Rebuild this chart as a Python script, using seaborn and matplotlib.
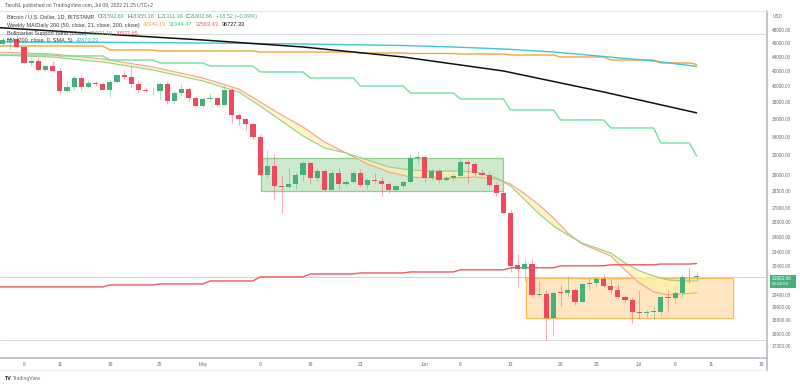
import numpy as np
import pandas as pd
import matplotlib
matplotlib.use("Agg")
import matplotlib.pyplot as plt
import seaborn as sns
from matplotlib.patches import Rectangle
from matplotlib.ticker import NullLocator

# ---- daily candles, day 0 = 6 Apr 2022 (BTC/USD, Bitstamp, log scale) ----
day = list(range(-3, 95))
open_ = [45900, 46450, 46600, 45400, 43170, 43400, 42200, 42700, 42000, 39400,
         39950, 41100, 39900, 40500, 40350, 39550, 40600, 41450, 41300, 40300,
         39600, 39350, 39450, 40350, 38100, 39200, 39700, 38550, 37600, 38450,
         38520, 37700, 39600, 36500, 36000, 35400, 34000, 30050, 30900, 28950,
         28900, 29200, 30000, 31250, 29800, 30400, 28600, 30250, 29200, 29400,
         30250, 29050, 29600, 29500, 29200, 28600, 28950, 29400, 31700, 31800,
         29750, 30400, 29600, 29800, 29900, 31300, 31100, 30200, 30000, 29050,
         28350, 26550, 22450, 22150, 22550, 20400, 20450, 18950, 20580, 20520,
         20700, 19950, 21100, 21200, 21500, 21000, 20750, 20250, 20080, 19300,
         19260, 19290, 19320, 20230, 20180, 20550, 21640, 21592.69]
high = [47000, 46900, 47200, 45500, 43900, 43950, 42800, 43400, 42400, 40700,
        41500, 41500, 40850, 40700, 40600, 40950, 41700, 42200, 42900, 40800,
        39850, 39900, 40600, 40700, 39400, 40300, 39900, 38800, 38650, 39150,
        38650, 40000, 39800, 36650, 36100, 35500, 34300, 32600, 32100, 30000,
        30800, 30300, 31400, 31300, 30750, 30650, 30500, 30750, 29600, 30450,
        30650, 29800, 30200, 29850, 29350, 29050, 29500, 32200, 32350, 31950,
        30600, 30650, 29950, 30150, 31700, 31550, 31300, 30650, 30300, 29400,
        28550, 26900, 23300, 22900, 22950, 21350, 20750, 20650, 21050, 21700,
        20850, 21200, 21550, 21600, 21850, 21500, 21200, 20400, 20250, 20750,
        19400, 19650, 20350, 20750, 20650, 21850, 22350, 21955.18]
low = [45600, 45100, 45400, 43100, 42700, 42100, 42100, 41900, 39200, 39250,
       39550, 39600, 39750, 40000, 39500, 38700, 40500, 40900, 39800, 39200,
       39300, 38900, 38300, 37800, 37900, 38900, 38200, 37600, 37400, 38000,
       37500, 37650, 35550, 35300, 34800, 33700, 30000, 29750, 27800, 26600,
       28800, 28700, 29500, 29200, 29450, 28550, 28600, 28750, 28950, 29250,
       28900, 28700, 29300, 28050, 28300, 28450, 28850, 29300, 31200, 29400,
       29600, 29250, 29450, 29500, 29850, 29250, 29900, 29950, 28900, 28100,
       26550, 21950, 20900, 21350, 20250, 20250, 17600, 17850, 19650, 20350,
       19750, 19900, 20750, 20950, 20950, 20550, 20200, 19850, 18650, 18950,
       18980, 18800, 19050, 19300, 19800, 20250, 21200, 21311.36]
close = [46450, 46600, 45500, 43170, 43400, 42200, 42700, 42000, 39400, 39950,
         41100, 39900, 40500, 40350, 39550, 40600, 41450, 41300, 40300, 39600,
         39350, 39450, 40350, 38100, 39200, 39700, 38550, 37600, 38450, 38520,
         37700, 39600, 36500, 36000, 35400, 34000, 30050, 30900, 28950, 28900,
         29200, 30000, 31250, 29800, 30400, 28600, 30250, 29200, 29400, 30250,
         29050, 29600, 29500, 29200, 28600, 28950, 29400, 31700, 31800, 29750,
         30400, 29600, 29800, 29900, 31300, 31100, 30200, 30000, 29050, 28350,
         26600, 22400, 22150, 22550, 20400, 20450, 18950, 20550, 20520, 20700,
         19950, 21100, 21200, 21500, 21000, 20750, 20250, 20080, 19280, 19260,
         19290, 19320, 20230, 20180, 20550, 21640, 21584, 21602.66]

# ---- Weekly MA / Daily 200 (weekly values start on Mondays) ----
week_start = [-9, -2, 5, 12, 19, 26, 33, 40, 47, 54, 61, 68, 75, 82, 89]
wma50 = [45582, 45582, 45582, 44997, 44851, 44851, 44706, 44706, 44561, 44490,
         44418, 44275, 43990, 43566, 43146]
wma21 = [44275, 44275, 44132, 43566, 43146, 42730, 41909, 41103, 40055, 39157,
         38407, 37067, 35889, 34975, 33318]
wma200 = [20924, 20924, 20924, 21058, 21126, 21332, 21611, 21820, 21890, 21961,
          22116, 22258, 22402, 22475, 22530]
last_day = 94
wma_last = {"wma50": 42949.19, "wma21": 31944.47, "wma200": 22563.43}

dma200_days = [-4, 11, 25, 39, 53, 67, 81, 94]
dma200 = [48400, 47384, 46474, 45434, 43990, 42045, 39290, 36727.33]

ma200_days = [-4, 11, 25, 39, 53, 60, 67, 74, 81, 88, 94]
ma200 = [46174, 46129, 46030, 45878, 45654, 45434, 45143, 44706, 44062, 43425, 42673.23]

# ---- Bullmarket Support Band ----
bsb_days = [-4, 4, 11, 18, 25, 30, 33, 36, 39, 42, 45, 48, 51, 54, 57, 60,
            63, 66, 68, 70, 72, 74, 76, 78, 80, 82, 84, 86, 88, 90, 92, 94]
bsb_sma = [44707, 44419, 43707, 42591, 41104, 39669, 38037, 36474, 35086, 33426,
           32258, 31132, 30338, 29851, 29755, 29755, 29851, 29659, 29184, 28256,
           27269, 26148, 24911, 24041, 23580, 23127, 22104, 21195, 20587, 20389,
           20455, 20527.65]
bsb_ema = [44275, 43990, 43285, 42181, 40708, 39286, 37548, 35772, 34080, 32784,
           32258, 31537, 30832, 30535, 30436, 30436, 30338, 29755, 28996, 27713,
           26488, 25480, 24750, 24119, 23732, 23352, 22610, 22032, 21680, 21401,
           21332, 21332.19]

# ---- drawings ----
range_box = (33.1, 67.0, 28530, 31710)     # day from, day to, low, high
bottom_box = (70.1, 99.1, 18910, 21520)
range_high, range_low = 47380, 17630
last_price = 21602.66

ytick_vals = [48000, 46000, 44000, 42000, 40000, 38000, 36000, 34000, 32000,
              30000, 28500, 27000, 25800, 24600, 23400, 22400, 20400, 19600,
              18800, 18000, 17300]
xtick_days = [0, 5, 12, 19, 25, 33, 40, 47, 56, 61, 68, 75, 80, 86, 91, 96, 103]
xtick_labels = ["6", "11", "18", "25", "May", "9", "16", "23", "Jun", "6", "13",
                "20", "25", "Jul", "6", "11", "18"]

UP, DOWN = "#45b07a", "#ef4a5c"

sns.set_theme(style="white")
plt.rcParams["font.family"] = ["Liberation Sans", "DejaVu Sans"]

W, H = 800, 386
fig = plt.figure(figsize=(W / 100, H / 100), dpi=100)
ax = fig.add_axes([0, (H - 358) / H, 767 / W, 347 / H])
ax.set_yscale("log")
ax.set_ylim(16630, 51040)
ax.set_xlim(-3.354, 103.84)


def weekly_path(starts, vals, final):
    xs, ys = [], []
    for i, (s, v) in enumerate(zip(starts, vals)):
        end = starts[i + 1] - 1 if i + 1 < len(starts) else last_day - 1
        xs += [s, end]
        ys += [v, v]
    xs.append(last_day)
    ys.append(final)
    return pd.DataFrame({"day": xs, "price": ys})


# boxes
for (d0, d1, lo, hi), fc, ec in [(range_box, "#cfe9cf", "#8fcf92"),
                                 (bottom_box, "#ffe5c0", "#ffb95a")]:
    ax.add_patch(Rectangle((d0, lo), d1 - d0, hi - lo, facecolor=fc,
                           edgecolor=ec, lw=0.9, zorder=1))

ax.axhline(range_high, color="#d6d8de", lw=0.7, zorder=0.5)
ax.axhline(range_low, color="#d6d8de", lw=0.7, zorder=0.5)
ax.axhline(last_price, color="#a9dcc4", lw=0.6, zorder=0.5)

# band
ax.fill_between(bsb_days, bsb_sma, bsb_ema, color="#fff1a8", alpha=0.7, lw=0, zorder=1.5)
sns.lineplot(x=bsb_days, y=bsb_sma, ax=ax, color="#f4a08f", lw=0.8, zorder=2)
sns.lineplot(x=bsb_days, y=bsb_ema, ax=ax, color="#98cf86", lw=0.8, zorder=2)

# moving averages
for df, col in [(weekly_path(week_start, wma50, wma_last["wma50"]), "#f7a534"),
                (weekly_path(week_start, wma21, wma_last["wma21"]), "#6fe3a4"),
                (weekly_path(week_start, wma200, wma_last["wma200"]), "#f05a5a")]:
    sns.lineplot(data=df, x="day", y="price", ax=ax, color=col, lw=1.0,
                 sort=False, estimator=None, zorder=2)
sns.lineplot(x=ma200_days, y=ma200, ax=ax, color="#3cc8d8", lw=1.0, zorder=2)
sns.lineplot(x=dma200_days, y=dma200, ax=ax, color="#111111", lw=1.1, zorder=2)

# candles
o, h, l, c = map(np.array, (open_, high, low, close))
d = np.array(day)
cols = np.where(c >= o, UP, DOWN)
ax.vlines(d, l, h, colors=cols, lw=0.7, alpha=0.45, zorder=3)
body_lo = np.minimum(o, c)
body_h = np.maximum(np.abs(c - o), body_lo * 0.0025)
ax.bar(d, body_h, bottom=body_lo, width=0.72, color=cols, lw=0, zorder=4)

# axes styling
for s in ["left", "top"]:
    ax.spines[s].set_visible(False)
ax.spines["bottom"].set_color("#b8bbc4")
ax.spines["bottom"].set_linewidth(1.2)
ax.spines["right"].set_color("#b8bbc4")
ax.spines["right"].set_linewidth(1.2)
ax.yaxis.tick_right()
ax.yaxis.set_minor_locator(NullLocator())
ax.set_yticks(ytick_vals)
ax.set_yticklabels([f"{v:.2f}" for v in ytick_vals])
ax.tick_params(axis="y", length=0, pad=3.5, labelsize=3.4, labelcolor="#6a6d78")
ax.set_xticks(xtick_days)
ax.set_xticklabels(xtick_labels)
ax.tick_params(axis="x", length=0, pad=3.0, labelsize=3.5, labelcolor="#6a6d78")
ax.set_xlabel("")
ax.set_ylabel("")
ax.grid(False)

# frame lines
fig.add_artist(plt.Line2D([0, 767 / W], [1 - 11 / H] * 2, color="#e3e5ea", lw=0.8))
fig.add_artist(plt.Line2D([0, 767 / W], [1 - 370 / H] * 2, color="#eceef2", lw=0.8))
fig.add_artist(plt.Line2D([767 / W] * 2, [1 - 370 / H, 1 - 358 / H], color="#b8bbc4", lw=1.2))

# last price tag
fig.add_artist(Rectangle((770 / W, 1 - 288 / H), 26 / W, 13.5 / H,
                         transform=fig.transFigure, facecolor="#45b07a", lw=0))
fig.text(772 / W, 1 - 278.3 / H, "21602.66", color="white", fontsize=3.4, va="center")
fig.text(772 / W, 1 - 283.8 / H, "02:34:59", color="white", fontsize=3.2, va="center")
fig.text(773 / W, 1 - 16 / H, "USD", color="#6a6d78", fontsize=3.4, va="center")

# header and legend
renderer = fig.canvas.get_renderer()


def text_row(x, y, parts, size=4.0):
    for s, col, gap in parts:
        t = fig.text(x / W, 1 - y / H, s, color=col, fontsize=size, va="center", ha="left")
        x += t.get_window_extent(renderer).width + gap


DARK = "#3a3d46"
fig.text(5 / W, 1 - 6 / H, "TaroNL published on TradingView.com, Jul 09, 2022 21:25 UTC+2",
         color="#555860", fontsize=3.6, va="center")
text_row(7, 16.5, [("Bitcoin / U.S. Dollar, 1D, BITSTAMP", DARK, 3),
                   ("O", DARK, 0), ("21592.69", UP, 3), ("H", DARK, 0), ("21955.18", UP, 3),
                   ("L", DARK, 0), ("21311.36", UP, 3), ("C", DARK, 0), ("21602.66", UP, 3),
                   ("+18.52 (+0.09%)", UP, 0)])
text_row(7, 25, [("Weekly MA/Daily 200 (50, close, 21, close, 200, close)", DARK, 3),
                 ("42949.19", "#f7a534", 3), ("31944.47", "#3fcf86", 3),
                 ("22563.43", "#f05a5a", 3), ("36727.33", "#111111", 0)])
text_row(7, 33.5, [("Bullmarket Support Band (close)", DARK, 3),
                   ("21332.19", "#6cc04a", 3), ("20527.65", "#f05a5a", 0)])
text_row(7, 40.5, [("MA (200, close, 0, SMA, 5)", DARK, 3), ("42673.23", "#2cb8cc", 0)])

fig.text(5 / W, 1 - 378.5 / H, "TV", color="#131722", fontsize=3.8, weight="bold", va="center")
fig.text(13 / W, 1 - 378.5 / H, "TradingView", color="#6a6d78", fontsize=3.6, va="center")

fig.savefig("out.png", dpi=100)
